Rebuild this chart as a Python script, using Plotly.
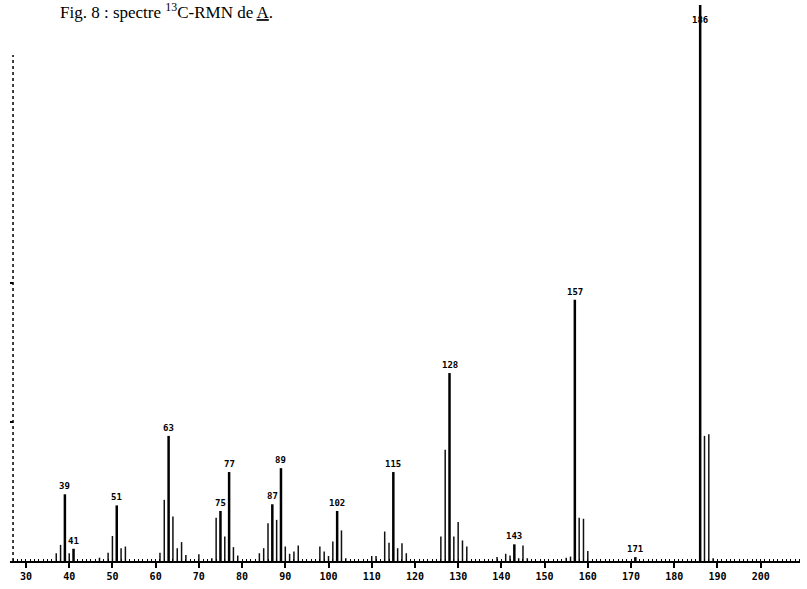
import plotly.graph_objects as go

# ---- data (m/z, relative intensity %) ----
main_mz = [39, 41, 51, 63, 75, 77, 87, 89, 102, 115, 128, 143, 157, 171, 186]
main_int = [12.0, 2.2, 10.0, 22.5, 9.0, 16.0, 10.2, 16.7, 9.0, 16.0, 33.8, 3.0, 47.0, 0.7, 100.0]
main_labels = ["39", "41", "51", "63", "75", "77", "87", "89", "102", "115", "128", "143", "157", "171", "186"]

minor_mz = [37, 38, 40, 47, 49, 50, 52, 53, 61, 62, 64, 65, 66, 67, 70,
            73, 74, 76, 78, 79, 84, 85, 86, 88, 90, 91, 92, 93,
            98, 99, 100, 101, 103, 104, 110, 111, 113, 114, 116, 117, 118,
            126, 127, 129, 130, 131, 132, 139, 141, 142, 144, 145, 146,
            155, 156, 158, 159, 160, 187, 188, 189]
minor_int = [1.4, 2.9, 1.4, 0.6, 1.5, 4.5, 2.3, 2.6, 1.5, 11.0, 8.0, 2.3, 3.4, 1.1, 1.2,
             0.5, 7.8, 4.4, 2.5, 1.0, 1.4, 2.3, 6.8, 7.4, 2.6, 1.3, 1.7, 2.8,
             2.6, 1.7, 0.9, 3.5, 5.5, 0.5, 0.9, 0.9, 5.3, 3.3, 2.3, 3.2, 1.4,
             4.4, 20.0, 4.4, 7.0, 3.7, 2.6, 0.7, 1.3, 1.0, 0.5, 2.8, 0.5,
             0.6, 0.8, 7.8, 7.6, 1.8, 22.5, 22.8, 0.5]

x_ticks = list(range(30, 201, 10))
y_marks = [25, 50]

title_text = ("Fig. 8 : spectre <sup>13</sup>C-RMN de "
              "<span style='text-decoration:underline'>A</span>.")

# ---- build stick segments ----
def sticks(xs, ys):
    sx, sy = [], []
    for x, y in zip(xs, ys):
        sx += [x, x, None]
        sy += [0, y, None]
    return sx, sy

fig = go.Figure()
mx, my = sticks(minor_mz, minor_int)
fig.add_trace(go.Scatter(x=mx, y=my, mode="lines",
                         line=dict(color="#111111", width=1.5),
                         hoverinfo="skip", showlegend=False))
px_, py_ = sticks(main_mz, main_int)
fig.add_trace(go.Scatter(x=px_, y=py_, mode="lines",
                         line=dict(color="#000000", width=2.5),
                         hoverinfo="skip", showlegend=False))

label_font = dict(family="DejaVu Sans Mono", size=9, color="black", weight="bold")
for m, h, t in zip(main_mz, main_int, main_labels):
    if m == 186:
        fig.add_annotation(x=m, y=h, text=t, showarrow=False, yanchor="top",
                           yshift=-8, font=label_font)
    else:
        fig.add_annotation(x=m, y=h, text=t, showarrow=False, yanchor="bottom",
                           yshift=1, font=label_font)

# dotted intensity axis
fig.add_shape(type="line", x0=27.0, x1=27.0, y0=0, y1=91, xref="x", yref="y",
              line=dict(color="black", width=1.5, dash="dot"))
for ym in y_marks:
    fig.add_shape(type="line", x0=25.3, x1=27.0, y0=ym, y1=ym, xref="x", yref="y",
                  line=dict(color="black", width=2))

fig.add_annotation(x=0.061, y=0.966, xref="paper", yref="paper",
                   xanchor="left", yanchor="bottom", showarrow=False,
                   text=title_text,
                   font=dict(family="Liberation Serif", size=17, color="black"))

fig.update_layout(
    width=807, height=589,
    margin=dict(l=10, r=7, t=5, b=28),
    paper_bgcolor="white", plot_bgcolor="white",
    xaxis=dict(range=[26.3, 209.1], showgrid=False, zeroline=False,
               showline=True, linecolor="black", linewidth=1.5,
               ticks="outside", ticklen=5, tickwidth=1.5, tickcolor="black",
               tickvals=x_ticks, ticktext=[str(v) for v in x_ticks],
               tickfont=dict(family="DejaVu Sans Mono", size=10, color="black", weight="bold"),
               minor=dict(dtick=1, ticks="inside", ticklen=2, tickcolor="black", tickwidth=1)),
    yaxis=dict(range=[0, 100], visible=False, fixedrange=True),
)

fig.write_html("out.html")
